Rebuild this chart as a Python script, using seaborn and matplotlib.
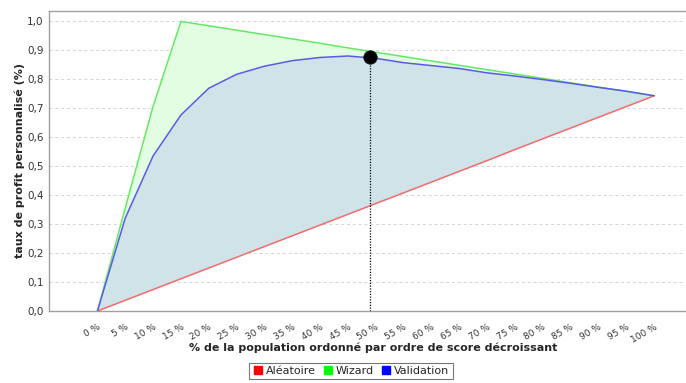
import numpy as np
import pandas as pd
import matplotlib
matplotlib.use("Agg")
import matplotlib.pyplot as plt
from matplotlib.lines import Line2D
import seaborn as sns

# Data (percent of population, profit rate)
pct = [0, 5, 10, 15, 20, 25, 30, 35, 40, 45, 50,
       55, 60, 65, 70, 75, 80, 85, 90, 95, 100]
aleatoire = [0.000, 0.037, 0.074, 0.111, 0.148, 0.185, 0.222, 0.259, 0.296, 0.333, 0.370,
             0.407, 0.444, 0.481, 0.518, 0.556, 0.593, 0.630, 0.667, 0.704, 0.741]
wizard = [0.000, 0.355, 0.705, 0.997, 0.982, 0.967, 0.952, 0.937, 0.922, 0.906, 0.891,
          0.876, 0.861, 0.846, 0.831, 0.816, 0.801, 0.786, 0.771, 0.756, 0.741]
validation = [0.000, 0.320, 0.534, 0.675, 0.767, 0.815, 0.843, 0.862, 0.873, 0.878, 0.870,
              0.855, 0.845, 0.835, 0.820, 0.809, 0.797, 0.784, 0.770, 0.757, 0.741]
optimum_x = [49]
optimum_y = [0.874]

series_names = ["Aléatoire", "Wizard", "Validation"]
series_colors = ["#f26d6d", "#66e866", "#5a5ae6"]
legend_colors = ["#ff0000", "#00ff00", "#0000ff"]
tick_labels = [f"{p} %" for p in pct]

sns.set_style("white")
plt.rcParams["font.family"] = ["DejaVu Sans"]

df = pd.DataFrame({
    "pct": pct * 3,
    "value": aleatoire + wizard + validation,
    "serie": np.repeat(series_names, len(pct)),
})

fig = plt.figure(figsize=(6.86, 3.83), dpi=100)
ax = fig.add_axes([49 / 686, 1 - 311 / 383, 1 - 49 / 686 - 0.001, 300 / 383])

# filled areas
ax.fill_between(pct, aleatoire, wizard, color="#e2fde2", zorder=1, linewidth=0)
ax.fill_between(pct, aleatoire, validation, color="#cfe3e8", zorder=2, linewidth=0)

sns.lineplot(data=df, x="pct", y="value", hue="serie", hue_order=series_names,
             palette=series_colors, linewidth=1.1, legend=False, ax=ax, zorder=3)

# optimum marker with dotted drop line
ax.vlines(optimum_x, 0, optimum_y, colors="black", linestyles=(0, (1, 1.2)),
          linewidth=0.9, zorder=4)
ax.scatter(optimum_x, optimum_y, s=95, color="black", zorder=5,
           edgecolors="#222222", linewidths=0.5)

ax.set_xlim(-8.7, 105.6)
ax.set_ylim(0, 1.033)
ax.set_yticks(np.arange(0, 1.01, 0.1))
ax.set_yticklabels([f"{v:.1f}".replace(".", ",") for v in np.arange(0, 1.01, 0.1)])
ax.set_xticks(pct)
ax.set_xticklabels(tick_labels, rotation=30, ha="right", rotation_mode="anchor")
ax.tick_params(axis="y", labelsize=7.5, colors="#333333", length=0, pad=4)
ax.tick_params(axis="x", labelsize=6.5, colors="#333333", length=0, pad=8)
ax.yaxis.grid(True, color="#d4d4d4", linestyle=(0, (3, 3)), linewidth=0.7)
ax.set_axisbelow(True)

for side in ["left", "bottom", "top"]:
    ax.spines[side].set_color("#a0a0a0")
    ax.spines[side].set_linewidth(1.0)
ax.spines["right"].set_visible(False)

ax.set_xlabel("% de la population ordonné par ordre de score décroissant",
              fontsize=8, fontweight="bold")
ax.xaxis.set_label_coords(0.51, -0.123)
ax.xaxis.label.set_va("center")
ax.set_ylabel("taux de profit personnalisé (%)", fontsize=8, fontweight="bold")
ax.yaxis.set_label_coords(-0.0455, 0.5)
ax.yaxis.label.set_va("center")

handles = [Line2D([], [], marker="s", linestyle="none", color=c, markersize=5.5)
           for c in legend_colors]
leg = fig.legend(handles, series_names, loc="lower center", bbox_to_anchor=(351 / 686, -0.005),
                 ncol=3, fontsize=8, frameon=True, fancybox=False, handletextpad=0.2,
                 columnspacing=0.6, borderpad=0.3, handlelength=1.0)
leg.get_frame().set_edgecolor("#555555")
leg.get_frame().set_linewidth(0.8)

fig.savefig("out.png", dpi=100)
